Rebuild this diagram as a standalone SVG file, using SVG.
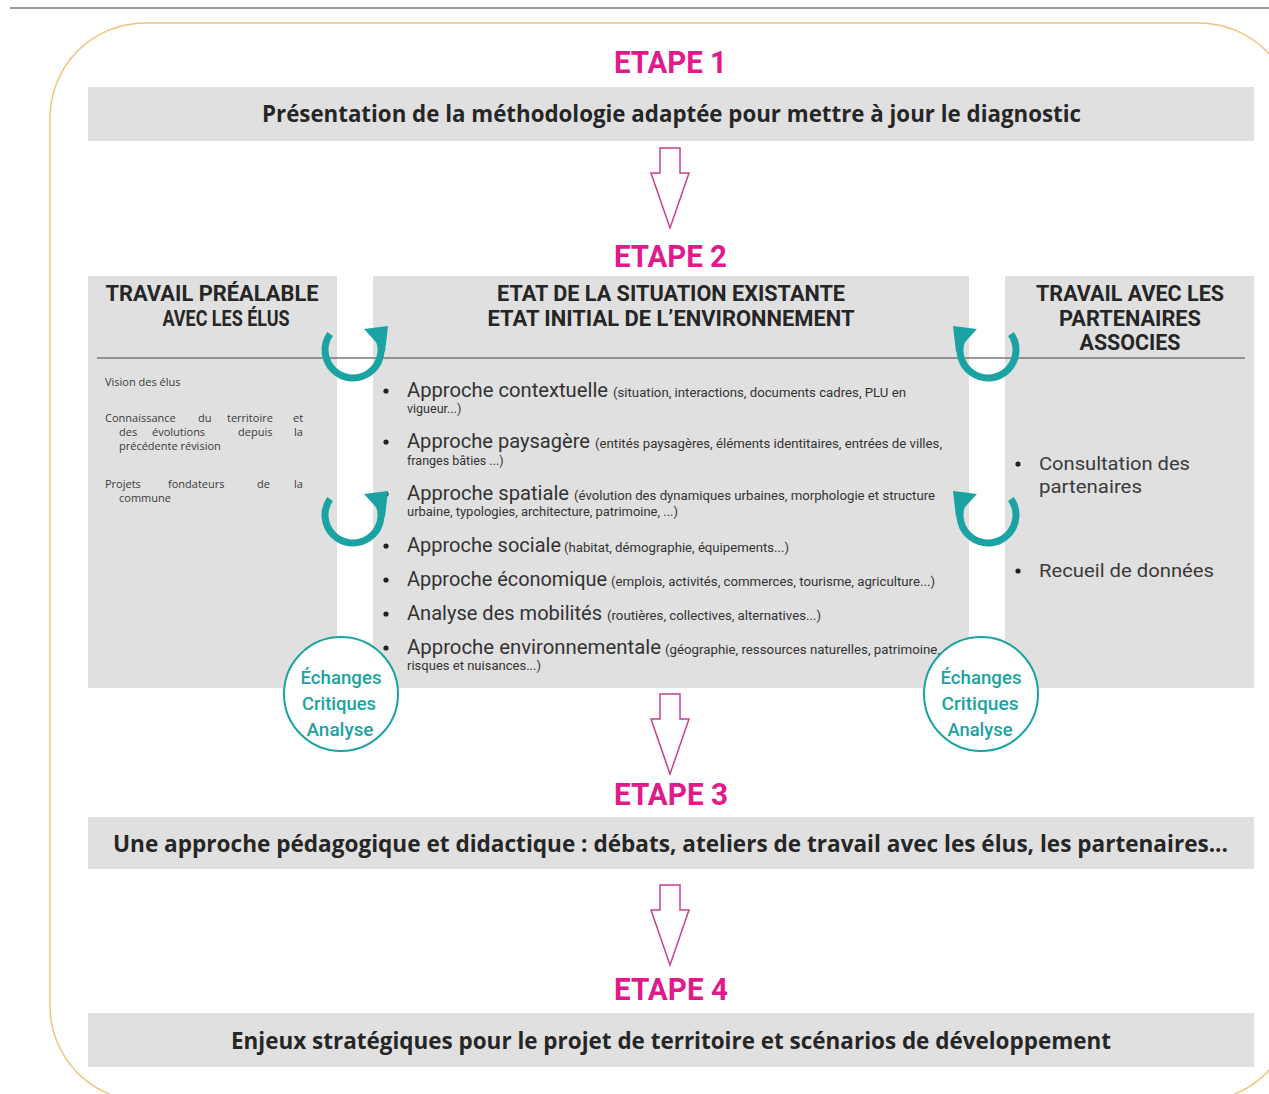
<svg xmlns="http://www.w3.org/2000/svg" width="1269" height="1094" viewBox="0 0 1269 1094">
<style>
.box{fill:#e0e0e0}
.etape{font-family:Roboto,"Liberation Sans",sans-serif;font-weight:bold;font-size:31px;fill:#e2198a}
.title{font-family:"Open Sans","Liberation Sans",sans-serif;font-weight:bold;font-size:23px;fill:#262626}
.head{font-family:Roboto,"Liberation Sans",sans-serif;font-weight:bold;font-size:22px;fill:#262626;text-anchor:middle}
.small{font-family:"Open Sans","Liberation Sans",sans-serif;font-size:11px;fill:#3a3a3a}
.main{font-family:Roboto,"Liberation Sans",sans-serif;font-size:20px;fill:#333}
.det{font-family:Roboto,"Liberation Sans",sans-serif;font-size:12.5px;fill:#333}
.right{font-family:Roboto,"Liberation Sans",sans-serif;font-size:19px;fill:#3a3a3a}
.circ{fill:#fff;stroke:#1ba3a3;stroke-width:2}
.ctext{font-family:Roboto,"Liberation Sans",sans-serif;font-weight:500;font-size:19px;fill:#1ba3a3;text-anchor:middle}
.down{fill:#fff;stroke:#c8408c;stroke-width:1.5}
.dot{fill:#222}
</style>
<defs>
<g id="cyc">
<path d="M-22.9,-16.1 A28,28 0 1 0 25.4,-11.8" fill="none" stroke="#1ba3a3" stroke-width="7"/>
<polygon points="11,-21 35,-24 32,2" fill="#1ba3a3"/>
</g>
</defs>
<rect x="0" y="0" width="1269" height="1094" fill="#fff"/>
<line x1="10" y1="8" x2="1269" y2="8" stroke="#9a9a9a" stroke-width="2"/>
<rect x="50" y="23" width="1244" height="1078" rx="95" ry="95" fill="#fff" stroke="#f0c27a" stroke-width="1.5"/>

<g id="etape1">
<text class="etape" x="614" y="73" textLength="113" lengthAdjust="spacingAndGlyphs">ETAPE 1</text>
<rect class="box" x="88" y="87" width="1166" height="54"/>
<text class="title" x="262" y="122" textLength="819" lengthAdjust="spacingAndGlyphs">Présentation de la méthodologie adaptée pour mettre à jour le diagnostic</text>
</g>

<g id="etape2-label">
<text class="etape" x="614" y="267" textLength="113" lengthAdjust="spacingAndGlyphs">ETAPE 2</text>
</g>

<g id="travail-prealable">
<rect class="box" x="88" y="276" width="249" height="412"/>
<text class="head" x="212" y="301" textLength="213" lengthAdjust="spacingAndGlyphs">TRAVAIL PRÉALABLE</text>
<text class="head" x="226" y="326" textLength="127" lengthAdjust="spacingAndGlyphs">AVEC LES ÉLUS</text>
<text class="small" x="105" y="386">Vision des élus</text>
<text class="small" y="422"><tspan x="105">Connaissance</tspan><tspan x="198">du</tspan><tspan x="227">territoire</tspan><tspan x="293">et</tspan></text>
<text class="small" y="436"><tspan x="119">des</tspan><tspan x="152">évolutions</tspan><tspan x="238">depuis</tspan><tspan x="294">la</tspan></text>
<text class="small" x="119" y="450">précédente révision</text>
<text class="small" y="488"><tspan x="105">Projets</tspan><tspan x="168">fondateurs</tspan><tspan x="257">de</tspan><tspan x="294">la</tspan></text>
<text class="small" x="119" y="502">commune</text>
</g>

<g id="etat-situation">
<rect class="box" x="373" y="276" width="596" height="412"/>
<text class="head" x="671" y="301" textLength="348" lengthAdjust="spacingAndGlyphs">ETAT DE LA SITUATION EXISTANTE</text>
<text class="head" x="671" y="326" textLength="367" lengthAdjust="spacingAndGlyphs">ETAT INITIAL DE L’ENVIRONNEMENT</text>
<circle class="dot" cx="386" cy="391" r="2.6"/>
<text class="main" x="407" y="397" textLength="201" lengthAdjust="spacingAndGlyphs">Approche contextuelle</text>
<text class="det" x="613" y="397" textLength="293" lengthAdjust="spacingAndGlyphs">(situation, interactions, documents cadres, PLU en</text>
<text class="det" x="407" y="413">vigueur...)</text>
<circle class="dot" cx="386" cy="442" r="2.6"/>
<text class="main" x="407" y="448" textLength="183" lengthAdjust="spacingAndGlyphs">Approche paysagère</text>
<text class="det" x="595" y="448" textLength="347" lengthAdjust="spacingAndGlyphs">(entités paysagères, éléments identitaires, entrées de villes,</text>
<text class="det" x="407" y="465">franges bâties ...)</text>
<circle class="dot" cx="386" cy="494" r="2.6"/>
<text class="main" x="407" y="500" textLength="162" lengthAdjust="spacingAndGlyphs">Approche spatiale</text>
<text class="det" x="574" y="500" textLength="361" lengthAdjust="spacingAndGlyphs">(évolution des dynamiques urbaines, morphologie et structure</text>
<text class="det" x="407" y="516" textLength="271" lengthAdjust="spacingAndGlyphs">urbaine, typologies, architecture, patrimoine, ...)</text>
<circle class="dot" cx="386" cy="546" r="2.6"/>
<text class="main" x="407" y="552" textLength="154" lengthAdjust="spacingAndGlyphs">Approche sociale</text>
<text class="det" x="564" y="552" textLength="225" lengthAdjust="spacingAndGlyphs">(habitat, démographie, équipements...)</text>
<circle class="dot" cx="386" cy="580" r="2.6"/>
<text class="main" x="407" y="586" textLength="200" lengthAdjust="spacingAndGlyphs">Approche économique</text>
<text class="det" x="611" y="586" textLength="324" lengthAdjust="spacingAndGlyphs">(emplois, activités, commerces, tourisme, agriculture...)</text>
<circle class="dot" cx="386" cy="614" r="2.6"/>
<text class="main" x="407" y="620" textLength="195" lengthAdjust="spacingAndGlyphs">Analyse des mobilités</text>
<text class="det" x="607" y="620" textLength="214" lengthAdjust="spacingAndGlyphs">(routières, collectives, alternatives...)</text>
<circle class="dot" cx="386" cy="648" r="2.6"/>
<text class="main" x="407" y="654" textLength="254" lengthAdjust="spacingAndGlyphs">Approche environnementale</text>
<text class="det" x="665" y="654" textLength="275" lengthAdjust="spacingAndGlyphs">(géographie, ressources naturelles, patrimoine,</text>
<text class="det" x="407" y="670" textLength="134" lengthAdjust="spacingAndGlyphs">risques et nuisances...)</text>
</g>

<g id="travail-partenaires">
<rect class="box" x="1005" y="276" width="249" height="412"/>
<text class="head" x="1130" y="301" textLength="188" lengthAdjust="spacingAndGlyphs">TRAVAIL AVEC LES</text>
<text class="head" x="1130" y="326" textLength="142" lengthAdjust="spacingAndGlyphs">PARTENAIRES</text>
<text class="head" x="1130" y="350" textLength="101" lengthAdjust="spacingAndGlyphs">ASSOCIES</text>
<circle class="dot" cx="1018" cy="464" r="2.6"/>
<text class="right" x="1039" y="470" textLength="151" lengthAdjust="spacingAndGlyphs">Consultation des</text>
<text class="right" x="1039" y="493" textLength="103" lengthAdjust="spacingAndGlyphs">partenaires</text>
<circle class="dot" cx="1018" cy="571" r="2.6"/>
<text class="right" x="1039" y="577" textLength="175" lengthAdjust="spacingAndGlyphs">Recueil de données</text>
</g>

<line x1="97" y1="358" x2="1245" y2="358" stroke="#777" stroke-width="1.5"/>

<g id="echanges-gauche">
<circle class="circ" cx="341" cy="694" r="57"/>
<text class="ctext" x="341" y="684" textLength="81" lengthAdjust="spacingAndGlyphs">Échanges</text>
<text class="ctext" x="339" y="710" textLength="74" lengthAdjust="spacingAndGlyphs">Critiques</text>
<text class="ctext" x="340" y="736" textLength="67" lengthAdjust="spacingAndGlyphs">Analyse</text>
</g>

<g id="echanges-droite">
<circle class="circ" cx="981" cy="694" r="57"/>
<text class="ctext" x="981" y="684" textLength="81" lengthAdjust="spacingAndGlyphs">Échanges</text>
<text class="ctext" x="980" y="710" textLength="77" lengthAdjust="spacingAndGlyphs">Critiques</text>
<text class="ctext" x="980" y="736" textLength="65" lengthAdjust="spacingAndGlyphs">Analyse</text>
</g>

<g id="etape3">
<text class="etape" x="614" y="805" textLength="114" lengthAdjust="spacingAndGlyphs">ETAPE 3</text>
<rect class="box" x="88" y="817" width="1166" height="52"/>
<text class="title" x="113" y="852" textLength="1115" lengthAdjust="spacingAndGlyphs">Une approche pédagogique et didactique : débats, ateliers de travail avec les élus, les partenaires...</text>
</g>

<g id="etape4">
<text class="etape" x="614" y="1000" textLength="114" lengthAdjust="spacingAndGlyphs">ETAPE 4</text>
<rect class="box" x="88" y="1013" width="1166" height="54"/>
<text class="title" x="231" y="1049" textLength="880" lengthAdjust="spacingAndGlyphs">Enjeux stratégiques pour le projet de territoire et scénarios de développement</text>
</g>

<g id="connectors">
<path class="down" d="M660,148 H680 V173 H689 L670,228 L651,173 H660 Z"/>
<path class="down" d="M660,694 H680 V719 H689 L670,774 L651,719 H660 Z"/>
<path class="down" d="M660,885 H680 V910 H689 L670,965 L651,910 H660 Z"/>
<use href="#cyc" transform="translate(353,350)"/>
<use href="#cyc" transform="translate(353,515)"/>
<use href="#cyc" transform="translate(988,350) scale(-1,1)"/>
<use href="#cyc" transform="translate(988,515) scale(-1,1)"/>
</g>
</svg>
